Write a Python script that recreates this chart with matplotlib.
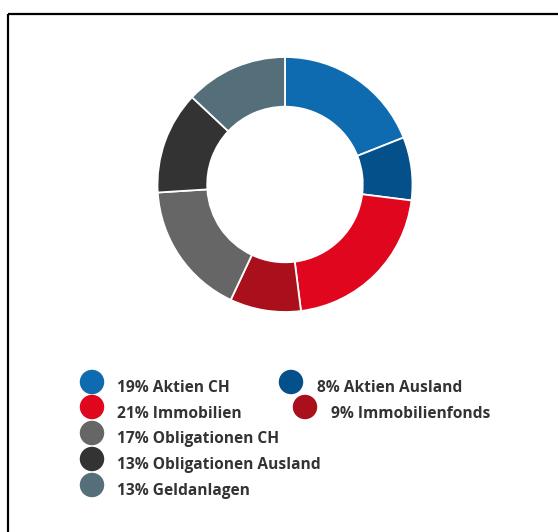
import matplotlib.pyplot as plt
from matplotlib.patches import Rectangle

# Portfolio allocation (percent)
labels = ["Aktien CH", "Aktien Ausland", "Immobilien", "Immobilienfonds",
          "Obligationen CH", "Obligationen Ausland", "Geldanlagen"]
shares = [19, 8, 21, 9, 17, 13, 13]
colors = ["#0F6BB0", "#04508A", "#E0061D", "#AA101C",
          "#666666", "#333333", "#546E7A"]

W, H = 558, 532
fig = plt.figure(figsize=(W / 100, H / 100), dpi=100)

# donut, centre ~ (285, 184) px, outer radius ~127 px
cx, cy, r = 285, 184.5, 127.5
ax = fig.add_axes([(cx - r) / W, (H - cy - r) / H, 2 * r / W, 2 * r / H])
ax.pie(shares, colors=colors, startangle=90, counterclock=False, radius=1,
       wedgeprops=dict(width=0.39, edgecolor="white", linewidth=1.3))
ax.set_xlim(-1, 1)
ax.set_ylim(-1, 1)
ax.axis("off")

# overlay in pixel coordinates for frame + legend
ov = fig.add_axes([0, 0, 1, 1])
ov.set_xlim(0, W)
ov.set_ylim(H, 0)
ov.axis("off")
ov.add_patch(Rectangle((8, 14), 700, 700, fill=False, edgecolor="black",
                       linewidth=1.6))

# legend layout (flowing, like the original html legend)
leg_pos = [(92, 382, 117, 392), (291, 382, 317, 392),
           (92, 407, 117, 418), (305, 407, 331, 418),
           (92, 433, 117, 443),
           (92, 459, 117, 469),
           (92, 485, 117, 495)]
for (mx, my, tx, ty), lab, val, col in zip(leg_pos, labels, shares, colors):
    ov.scatter([mx], [my], s=310, color=col, edgecolors="none")
    ov.text(tx, ty, f"{val}% {lab}", fontsize=11.2, fontweight="bold",
            family="Open Sans", color="#333333", va="baseline", ha="left")

fig.savefig("out.png", dpi=100)
